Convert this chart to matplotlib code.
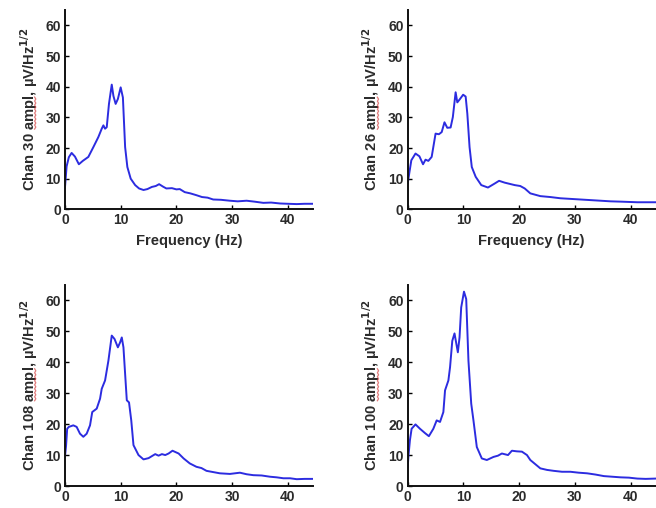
import numpy as np
import matplotlib
matplotlib.use("Agg")
import matplotlib.pyplot as plt
from matplotlib.lines import Line2D
from matplotlib.transforms import IdentityTransform

plt.rcParams['font.family'] = ['Liberation Sans', 'DejaVu Sans']

# amplitude spectra, frequency in Hz and amplitude in uV/Hz^1/2
freq30 = [0, 0.3, 0.7, 1.2, 1.8, 2.5, 3.2, 4.2, 5.1, 6.0, 6.6, 6.9, 7.2, 7.5, 7.9, 8.4,
          8.7, 9.1, 9.5, 10.0, 10.4, 10.8, 11.2, 11.8, 12.6, 13.3, 14.1, 14.8, 15.6, 16.3,
          16.9, 17.6, 18.2, 19.2, 20.0, 20.6, 21.5, 22.5, 23.6, 24.6, 25.6, 26.6, 28.0,
          29.6, 31.0, 32.6, 34.0, 35.6, 37.0, 38.6, 40.0, 41.6, 43.0, 44.5]
amp30 = [7, 14, 17, 18.4, 17.2, 14.7, 15.8, 17.1, 20.3, 23.6, 26.3, 27.4, 26.3, 26.8,
         34.4, 40.7, 37.0, 34.4, 36.0, 39.8, 36.5, 20.3, 13.8, 10.0, 7.9, 6.8, 6.3, 6.6,
         7.3, 7.6, 8.2, 7.4, 6.8, 6.9, 6.5, 6.6, 5.6, 5.2, 4.6, 4.0, 3.8, 3.2, 3.1, 2.8,
         2.6, 2.8, 2.5, 2.1, 2.2, 1.9, 1.8, 1.7, 1.8, 1.8]

freq26 = [0, 0.3, 0.65, 1.4, 2.1, 2.75, 3.2, 3.7, 4.3, 5.0, 5.6, 6.1, 6.6, 7.1, 7.7,
          8.1, 8.6, 8.9, 9.3, 9.95, 10.4, 10.7, 11.1, 11.5, 12.2, 13.2, 14.4, 15.6, 16.4,
          17.4, 18.3, 19.2, 20.2, 21.0, 22.0, 23.8, 25.6, 27.4, 29.2, 31.0, 32.8, 34.6,
          36.4, 38.2, 39.7, 41.2, 42.7, 44.5]
amp26 = [8.4, 12, 16.0, 18.2, 17.3, 14.7, 16.2, 15.8, 17.1, 24.7, 24.5, 25.2, 28.4,
         26.6, 26.7, 30.1, 38.2, 34.9, 35.8, 37.4, 36.8, 31.2, 20.3, 13.8, 10.6, 7.9,
         7.1, 8.4, 9.3, 8.7, 8.3, 7.9, 7.6, 6.8, 5.2, 4.3, 4.0, 3.6, 3.4, 3.2, 3.0, 2.8,
         2.6, 2.5, 2.4, 2.3, 2.3, 2.3]

freq108 = [0, 0.2, 0.4, 0.7, 1.5, 2.1, 2.7, 3.3, 3.9, 4.5, 4.9, 5.7, 6.3, 6.6, 7.2, 7.8,
           8.4, 8.9, 9.5, 9.9, 10.2, 10.5, 10.8, 11.1, 11.5, 11.9, 12.3, 13.2, 14.1,
           15.0, 16.2, 16.8, 17.4, 18.0, 18.6, 19.3, 20.4, 21.3, 22.4, 23.6, 24.5, 25.4,
           26.6, 27.8, 29.6, 31.4, 32.6, 33.8, 35.3, 36.8, 38.0, 39.2, 40.4, 41.6, 43.0,
           44.5]
amp108 = [9.4, 13, 18.5, 19.1, 19.6, 19.1, 16.9, 15.9, 16.9, 19.6, 23.9, 25.0, 28.2,
          31.4, 34.1, 40.5, 48.6, 47.5, 44.8, 46.4, 48.0, 44.8, 36.2, 27.7, 27.0, 21.2,
          13.2, 10.0, 8.6, 9.0, 10.3, 9.8, 10.3, 10.0, 10.5, 11.4, 10.5, 8.9, 7.3, 6.2,
          5.8, 4.9, 4.5, 4.1, 3.9, 4.3, 3.8, 3.5, 3.4, 3.0, 2.8, 2.5, 2.5, 2.2, 2.3, 2.3]

freq100 = [0, 0.15, 0.4, 0.7, 1.4, 2.2, 3.1, 3.8, 4.6, 5.2, 5.8, 6.4, 6.7, 7.3, 7.6, 8.0,
           8.4, 9.0, 9.3, 9.6, 10.1, 10.5, 10.9, 11.4, 11.8, 12.4, 13.3, 14.2, 15.4,
           16.2, 16.9, 18.0, 18.7, 19.6, 20.5, 21.4, 22.0, 23.8, 25.0, 26.2, 27.7, 29.2,
           30.7, 32.2, 33.7, 35.2, 36.7, 38.2, 39.7, 41.2, 42.7, 44.5]
amp100 = [6.2, 10, 14.8, 18.5, 19.9, 18.5, 17.1, 16.1, 18.5, 21.2, 20.7, 23.9, 30.9,
          34.1, 38.4, 46.9, 49.3, 43.2, 48.0, 57.7, 62.8, 60.4, 40.5, 26.6, 21.2, 12.6,
          8.9, 8.4, 9.4, 9.8, 10.5, 10.0, 11.4, 11.2, 11.1, 10.0, 8.4, 5.7, 5.2, 4.9, 4.6,
          4.6, 4.3, 4.1, 3.7, 3.2, 3.0, 2.8, 2.7, 2.4, 2.3, 2.4]

channels = ["Chan 30", "Chan 26", "Chan 108", "Chan 100"]
freqs = [freq30, freq26, freq108, freq100]
amps = [amp30, amp26, amp108, amp100]

# axes rectangles in figure fractions [left, bottom, width, height]
rects = [
    [0.099, 0.588, 0.378, 0.392],
    [0.6215, 0.588, 0.378, 0.392],
    [0.099, 0.0433, 0.378, 0.396],
    [0.6215, 0.0433, 0.378, 0.396],
]

fig = plt.figure(figsize=(6.56, 5.08), dpi=100)
txt = '#2b2b2b'
lab_size = 10.6

labels = []
for i, (name, f, a, r) in enumerate(zip(channels, freqs, amps, rects)):
    ax = fig.add_axes(r)
    ax.plot(f, a, color='#2c2ce0', lw=1.4, solid_joinstyle='round')
    ax.set_xlim(0, 44.5)
    ax.set_ylim(0, 65)
    ax.set_xticks([0, 10, 20, 30, 40])
    ax.set_yticks([0, 10, 20, 30, 40, 50, 60])
    ax.spines['top'].set_visible(False)
    ax.spines['right'].set_visible(False)
    for s in ('left', 'bottom'):
        ax.spines[s].set_linewidth(1.4)
        ax.spines[s].set_color('#111111')
    ax.tick_params(direction='in', length=3, width=1, labelsize=10,
                   labelcolor=txt, pad=3)
    for lab in ax.get_xticklabels() + ax.get_yticklabels():
        lab.set_fontweight('bold')
    yl = ax.set_ylabel(name + ' ampl, \u00b5V/Hz$^{\\mathbf{1/2}}$', fontsize=lab_size,
                       fontweight='bold', color=txt, labelpad=4)
    labels.append((name, yl))
    if i < 2:
        ax.set_xlabel('Frequency (Hz)', fontsize=lab_size, fontweight='bold',
                      color=txt, labelpad=5)

# red spell-check squiggle under the word "ampl" in each y label
fig.canvas.draw()
renderer = fig.canvas.get_renderer()
for name, yl in labels:
    bb = yl.get_window_extent(renderer)
    t1 = fig.text(0, 0, name + ' ', fontsize=lab_size, fontweight='bold')
    t2 = fig.text(0, 0, name + ' ampl', fontsize=lab_size, fontweight='bold')
    w1 = t1.get_window_extent(renderer).width
    w2 = t2.get_window_extent(renderer).width
    t1.remove()
    t2.remove()
    ys = np.arange(bb.y0 + w1 + 1, bb.y0 + w2 - 1, 2.0)
    xs = bb.x1 - 4.5 + np.where(np.arange(len(ys)) % 2 == 0, -0.6, 0.6)
    fig.add_artist(Line2D(xs, ys, color='#d85050', lw=0.9, alpha=0.75,
                          transform=IdentityTransform()))

fig.savefig('out.png', dpi=100)
